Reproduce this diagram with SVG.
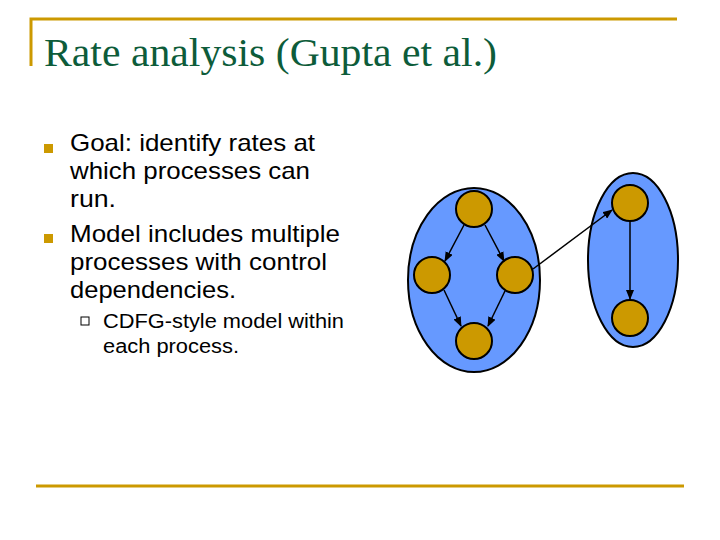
<svg xmlns="http://www.w3.org/2000/svg" width="720" height="540" viewBox="0 0 720 540">
<style>
.t{font-family:"Liberation Sans",Arial,sans-serif;font-size:24px;fill:#000}
.s{font-family:"Liberation Sans",Arial,sans-serif;font-size:20px;fill:#000}
.proc{fill:#6699ff;stroke:#000;stroke-width:2}
.n{fill:#cc9900;stroke:#000;stroke-width:2}
.e{stroke:#000;stroke-width:1.5;fill:none;marker-end:url(#a)}
</style>
<defs><marker id="a" markerWidth="10" markerHeight="8" refX="9" refY="4" orient="auto" markerUnits="userSpaceOnUse"><path d="M0,0L10,4L0,8z" fill="#000"/></marker></defs>
<rect width="720" height="540" fill="#fff"/>
<path d="M31,66V19H677" fill="none" stroke="#cc9900" stroke-width="3"/>
<line x1="36" y1="486" x2="684" y2="486" stroke="#cc9900" stroke-width="3"/>
<text x="44" y="66" font-family="Liberation Serif,serif" font-size="40" fill="#0d5c3a" textLength="453" lengthAdjust="spacingAndGlyphs">Rate analysis (Gupta et al.)</text>
<rect x="44" y="144" width="9" height="9" fill="#cc9900"/>
<rect x="44" y="234" width="9" height="9" fill="#cc9900"/>
<text class="t"><tspan x="70" y="151" textLength="245" lengthAdjust="spacingAndGlyphs">Goal: identify rates at</tspan><tspan x="70" y="179" textLength="240" lengthAdjust="spacingAndGlyphs">which processes can</tspan><tspan x="70" y="207" textLength="46" lengthAdjust="spacingAndGlyphs">run.</tspan><tspan x="70" y="242" textLength="270" lengthAdjust="spacingAndGlyphs">Model includes multiple</tspan><tspan x="70" y="270" textLength="257" lengthAdjust="spacingAndGlyphs">processes with control</tspan><tspan x="70" y="298" textLength="166" lengthAdjust="spacingAndGlyphs">dependencies.</tspan></text>
<rect x="81" y="317" width="8" height="8" fill="none" stroke="#000" stroke-width="1"/>
<text class="s"><tspan x="103" y="328" textLength="241" lengthAdjust="spacingAndGlyphs">CDFG-style model within</tspan><tspan x="103" y="353" textLength="136" lengthAdjust="spacingAndGlyphs">each process.</tspan></text>
<g id="p1"><ellipse class="proc" cx="474" cy="280" rx="66" ry="92"/></g>
<g id="p2"><ellipse class="proc" cx="633" cy="260" rx="45" ry="87"/></g>
<g id="n1"><circle class="n" cx="474" cy="209" r="18"/></g>
<g id="n2"><circle class="n" cx="432" cy="275" r="18"/></g>
<g id="n3"><circle class="n" cx="515" cy="275" r="18"/></g>
<g id="n4"><circle class="n" cx="474" cy="341" r="18"/></g>
<g id="n5"><circle class="n" cx="630" cy="203" r="18"/></g>
<g id="n6"><circle class="n" cx="630" cy="318" r="18"/></g>
<g id="edges">
<line class="e" x1="464" y1="225" x2="445" y2="261"/>
<line class="e" x1="485" y1="225" x2="504" y2="261"/>
<line class="e" x1="444" y1="290" x2="461" y2="326"/>
<line class="e" x1="505" y1="291" x2="488" y2="326"/>
<line class="e" x1="533" y1="269" x2="612" y2="210"/>
<line class="e" x1="630" y1="221" x2="630" y2="299"/>
</g>
</svg>
